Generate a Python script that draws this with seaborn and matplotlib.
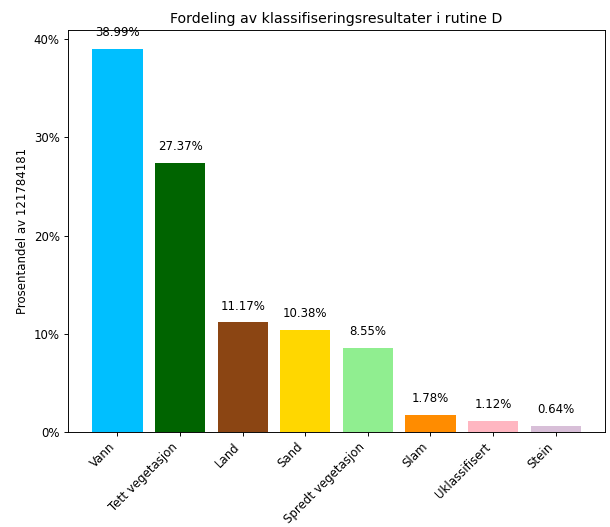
import matplotlib
matplotlib.use("Agg")
import matplotlib.pyplot as plt
import seaborn as sns
from matplotlib.ticker import FuncFormatter

categories = ["Vann", "Tett vegetasjon", "Land", "Sand", "Spredt vegetasjon", "Slam", "Uklassifisert", "Stein"]
values = [38.99, 27.37, 11.17, 10.38, 8.55, 1.78, 1.12, 0.64]
colors = ["#00BFFF", "#006400", "#8B4513", "#FFD700", "#90EE90", "#FF8C00", "#FFB6C1", "#D8BFD8"]
yticks = [0, 10, 20, 30, 40]

DPI = 84.7
fig, ax = plt.subplots(figsize=(610 / DPI, 527 / DPI), dpi=DPI)
sns.barplot(x=categories, y=values, hue=categories, palette=colors, legend=False,
            width=0.8, saturation=1, ax=ax)
for i, v in enumerate(values):
    ax.text(i, v + 1, f"{v:.2f}%", ha="center", va="bottom", fontsize=10)
ax.set_ylim(0, max(values) * 1.05)
ax.set_xlim(-0.4 - 0.39, len(values) - 1 + 0.4 + 0.39)
ax.set_yticks(yticks)
ax.yaxis.set_major_formatter(FuncFormatter(lambda y, _: f"{y:.0f}%"))
ax.set_title("Fordeling av klassifiseringsresultater i rutine D")
ax.set_ylabel("Prosentandel av 121784181")
ax.set_xlabel("")
plt.setp(ax.get_xticklabels(), rotation=45, ha="right")
fig.subplots_adjust(left=0.1115, right=0.992, top=0.943, bottom=0.18)
fig.savefig("out.png", dpi=DPI)
